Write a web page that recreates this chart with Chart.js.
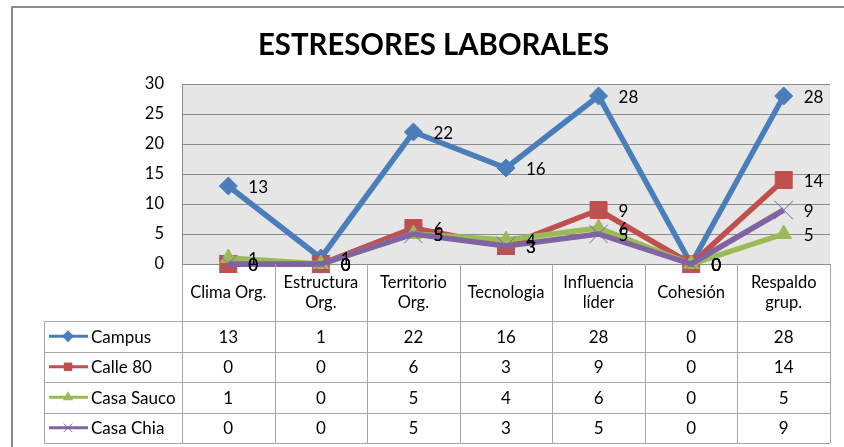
<!DOCTYPE html>
<html>
<head>
<meta charset="utf-8">
<script src="https://cdn.jsdelivr.net/npm/chart.js@4"></script>
<style>
  html, body { margin: 0; padding: 0; background: #fff; }
  #chart_wrap { width: 844px; height: 447px; }
</style>
</head>
<body>
<div id="chart_wrap"><canvas id="stress_chart" width="844" height="447"></canvas></div>
<script>
const chart_title = "ESTRESORES LABORALES";
const categories = ["Clima Org.", "Estructura Org.", "Territorio Org.", "Tecnologia", "Influencia líder", "Cohesión", "Respaldo grup."];
const series_names = ["Campus", "Calle 80", "Casa Sauco", "Casa Chia"];
const campus = [13, 1, 22, 16, 28, 0, 28];
const calle80 = [0, 0, 6, 3, 9, 0, 14];
const casa_sauco = [1, 0, 5, 4, 6, 0, 5];
const casa_chia = [0, 0, 5, 3, 5, 0, 9];
const y_ticks = [0, 5, 10, 15, 20, 25, 30];

const font_name = "Lato, 'Open Sans', sans-serif";
const colors = ["#4a7ebb", "#c0504d", "#9bbb59", "#8064a2"];
const point_styles = ["rectRot", "rect", "triangle", "crossRot"];
const point_sizes = [9, 12, 9, 13];

const ctx = document.getElementById("stress_chart");

function drawMarker(c, style, x, y, r, color) {
  c.save();
  c.fillStyle = color;
  c.strokeStyle = color;
  c.lineWidth = 1;
  c.beginPath();
  if (style === "rectRot") {
    c.moveTo(x, y - r); c.lineTo(x + r, y); c.lineTo(x, y + r); c.lineTo(x - r, y);
    c.closePath(); c.fill();
  } else if (style === "rect") {
    c.rect(x - r * 0.7, y - r * 0.7, r * 1.4, r * 1.4); c.fill();
  } else if (style === "triangle") {
    c.moveTo(x, y - r); c.lineTo(x + r * 0.87, y + r * 0.5); c.lineTo(x - r * 0.87, y + r * 0.5);
    c.closePath(); c.fill();
  } else {
    const d = r * 0.7;
    c.moveTo(x - d, y - d); c.lineTo(x + d, y + d);
    c.moveTo(x + d, y - d); c.lineTo(x - d, y + d);
    c.stroke();
  }
  c.restore();
}

// background, frame, title and data table
const tablePlugin = {
  id: "tablePlugin",
  beforeDraw(chart) {
    const c = chart.ctx;
    const a = chart.chartArea;
    c.save();
    c.fillStyle = "#fff";
    c.fillRect(0, 0, chart.width, chart.height);
    c.fillStyle = "#e6e6e6";
    c.fillRect(a.left, a.top, a.right - a.left, a.bottom - a.top);
    c.strokeStyle = "#8a8a8a";
    c.lineWidth = 2;
    c.beginPath();
    c.moveTo(12, chart.height);
    c.lineTo(12, 7);
    c.lineTo(chart.width, 7);
    c.stroke();

    // title
    c.fillStyle = "#000";
    c.font = "bold 30px " + font_name;
    c.textBaseline = "alphabetic";
    const tw = c.measureText(chart_title).width;
    const target = 351;
    c.translate(258, 55);
    c.scale(target / tw, 1);
    c.fillText(chart_title, 0, 0);
    c.restore();
  },
  afterDatasetsDraw(chart) {
    const c = chart.ctx;
    c.save();
    c.font = "17px " + font_name;
    c.fillStyle = "#000";
    c.textAlign = "left";
    c.textBaseline = "middle";
    chart.data.datasets.forEach((ds, i) => {
      const meta = chart.getDatasetMeta(i);
      meta.data.forEach((pt, j) => {
        c.fillText(String(ds.data[j]), pt.x + 20, pt.y + 2);
      });
    });
    c.restore();
  },
  afterDraw(chart) {
    const c = chart.ctx;
    const xs = chart.scales.x;
    const n = categories.length;
    const colW = (xs.right - xs.left) / n;
    const top = chart.chartArea.bottom;
    const rows = [321, 351.5, 382, 412.5, 443];
    const legendLeft = 44;
    c.save();
    c.strokeStyle = "#a6a6a6";
    c.lineWidth = 1;
    c.beginPath();
    for (let k = 0; k <= n; k++) {
      const x = Math.round(xs.left + k * colW) + 0.5;
      c.moveTo(x, top);
      c.lineTo(x, rows[rows.length - 1]);
    }
    c.moveTo(legendLeft + 0.5, rows[0]);
    c.lineTo(legendLeft + 0.5, rows[rows.length - 1]);
    rows.forEach(y => {
      c.moveTo(legendLeft, Math.round(y) + 0.5);
      c.lineTo(xs.right, Math.round(y) + 0.5);
    });
    c.stroke();

    // category header
    c.fillStyle = "#000";
    c.font = "16.5px " + font_name;
    c.textAlign = "center";
    c.textBaseline = "middle";
    categories.forEach((cat, j) => {
      const cx = xs.getPixelForValue(j);
      const cy = (top + rows[0]) / 2;
      if (c.measureText(cat).width > colW - 6 && cat.indexOf(" ") > 0) {
        const sp = cat.lastIndexOf(" ");
        c.fillText(cat.slice(0, sp), cx, cy - 10);
        c.fillText(cat.slice(sp + 1), cx, cy + 10);
      } else {
        c.fillText(cat, cx, cy);
      }
    });

    // series rows
    c.font = "17px " + font_name;
    chart.data.datasets.forEach((ds, i) => {
      const cy = (rows[i] + rows[i + 1]) / 2;
      c.save();
      c.strokeStyle = colors[i];
      c.lineWidth = 3;
      c.beginPath();
      c.moveTo(49, cy);
      c.lineTo(88, cy);
      c.stroke();
      c.restore();
      drawMarker(c, point_styles[i], 68, cy, 6, colors[i]);
      c.textAlign = "left";
      c.fillText(series_names[i], 91, cy + 1);
      c.textAlign = "center";
      ds.data.forEach((v, j) => {
        c.fillText(String(v), xs.getPixelForValue(j), cy + 1);
      });
    });
    c.restore();
  }
};

const all_series = [campus, calle80, casa_sauco, casa_chia];
const datasets = all_series.map((vals, i) => ({
  label: series_names[i],
  data: vals,
  borderColor: colors[i],
  backgroundColor: colors[i],
  borderWidth: 5.5,
  pointStyle: point_styles[i],
  pointRadius: point_sizes[i],
  pointBorderWidth: 1,
  pointBorderColor: colors[i],
  pointBackgroundColor: colors[i],
  tension: 0,
  clip: false,
  order: 4 - i
}));

const stress_chart = new Chart(ctx, {
  type: "line",
  data: {
    labels: categories,
    datasets: datasets
  },
  plugins: [tablePlugin],
  options: {
    responsive: false,
    animation: false,
    events: [],
    layout: {
      padding: { left: 142, top: 84, right: 9, bottom: 183 }
    },
    plugins: {
      legend: { display: false },
      title: { display: false },
      tooltip: { enabled: false }
    },
    scales: {
      x: {
        type: "category",
        display: false,
        offset: true
      },
      y: {
        min: 0,
        max: 30,
        afterFit(scale) { scale.width = 40; },
        afterBuildTicks(scale) { scale.ticks = y_ticks.map(v => ({ value: v })); },
        ticks: {
          color: "#000",
          padding: 18,
          font: { family: font_name, size: 16.5 }
        },
        grid: {
          color: "#8c8c8c",
          drawTicks: false
        },
        border: { display: true, color: "#8c8c8c", width: 1 }
      }
    }
  }
});
</script>
</body>
</html>
